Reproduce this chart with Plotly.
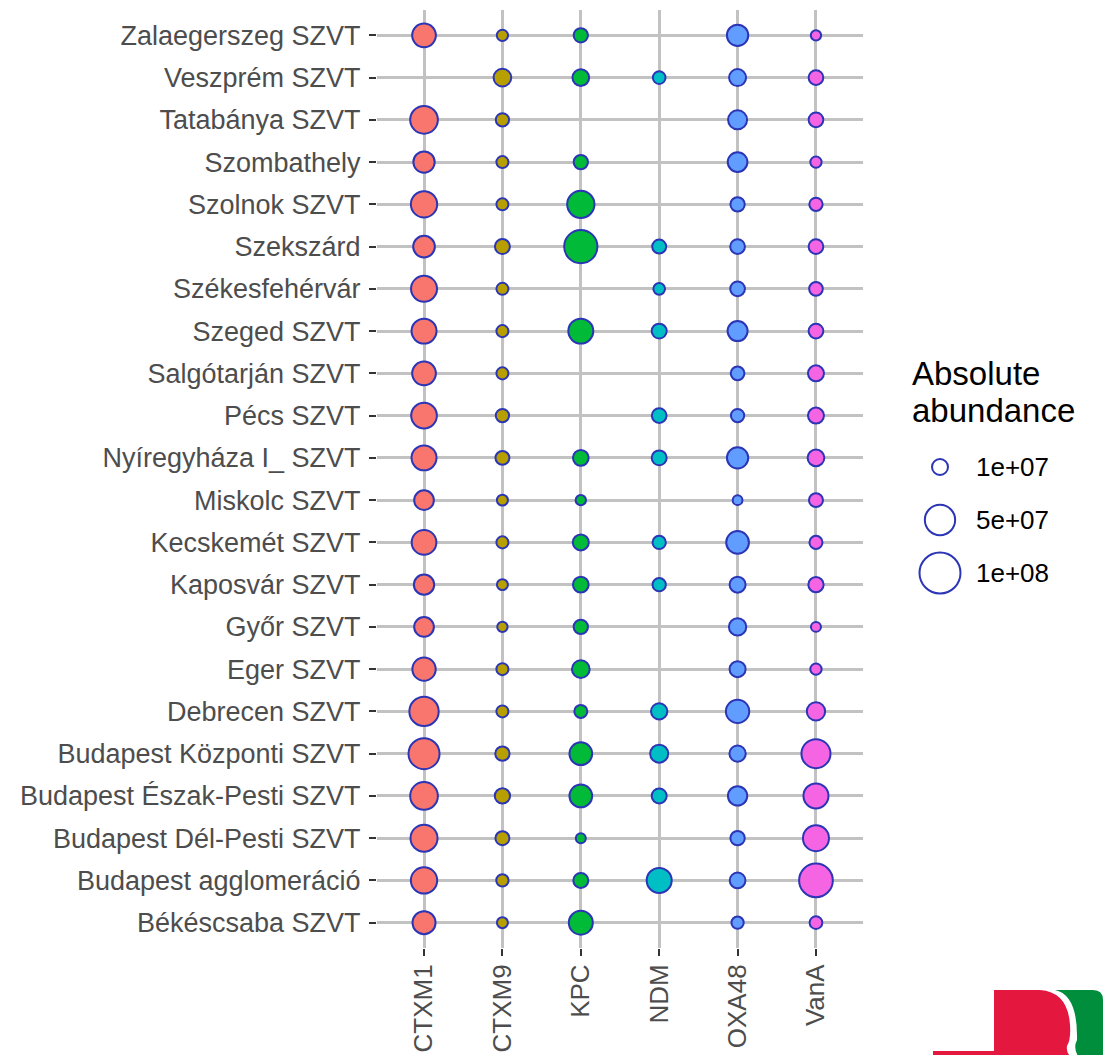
import plotly.graph_objects as go
import math

# ---------------- data ----------------
sites = [
    "Zalaegerszeg SZVT", "Veszprém SZVT", "Tatabánya SZVT", "Szombathely",
    "Szolnok SZVT", "Szekszárd", "Székesfehérvár", "Szeged SZVT",
    "Salgótarján SZVT", "Pécs SZVT", "Nyíregyháza I_ SZVT", "Miskolc SZVT",
    "Kecskemét SZVT", "Kaposvár SZVT", "Győr SZVT", "Eger SZVT",
    "Debrecen SZVT", "Budapest Központi SZVT", "Budapest Észak-Pesti SZVT",
    "Budapest Dél-Pesti SZVT", "Budapest agglomeráció", "Békéscsaba SZVT",
]
genes = ["CTXM1", "CTXM9", "KPC", "NDM", "OXA48", "VanA"]

CTXM1 = [2.78e7, None, 4.05e7, 2.13e7, 3.58e7, 2.23e7, 3.48e7, 3.16e7, 2.78e7, 3.38e7, 3.16e7,
         1.74e7, 3.07e7, 1.88e7, 1.74e7, 2.66e7, 4.63e7, 5.28e7, 4.05e7, 3.81e7, 3.58e7, 2.58e7]
CTXM9 = [0.35e7, 1.32e7, 0.59e7, 0.43e7, 0.43e7, 0.83e7, 0.43e7, 0.43e7, 0.43e7, 0.59e7, 0.68e7,
         0.32e7, 0.43e7, 0.32e7, 0.26e7, 0.43e7, 0.43e7, 0.73e7, 0.88e7, 0.68e7, 0.46e7, 0.32e7]
KPC = [0.73e7, 1.13e7, None, 0.73e7, 3.91e7, 6.23e7, None, 3.16e7, None, None, 0.95e7,
       0.26e7, 1.00e7, 0.95e7, 0.73e7, 1.32e7, 0.55e7, 2.50e7, 2.50e7, 0.23e7, 0.83e7, 2.86e7]
NDM = [None, 0.51e7, None, None, None, 0.68e7, 0.39e7, 0.83e7, None, 0.79e7, 0.83e7,
       None, 0.59e7, 0.59e7, None, None, 1.05e7, 1.38e7, 0.83e7, None, 3.16e7, None]
OXA48 = [2.13e7, 1.18e7, 1.59e7, 1.74e7, 0.73e7, 0.79e7, 0.79e7, 1.81e7, 0.64e7, 0.59e7, 2.13e7,
         0.21e7, 2.50e7, 1.00e7, 1.24e7, 1.00e7, 2.66e7, 1.05e7, 1.65e7, 0.73e7, 0.95e7, 0.46e7]
VanA = [0.26e7, 0.79e7, 0.79e7, 0.35e7, 0.59e7, 0.79e7, 0.64e7, 0.79e7, 1.00e7, 1.00e7, 1.13e7,
        0.68e7, 0.55e7, 0.88e7, 0.23e7, 0.35e7, 1.44e7, 4.52e7, 3.16e7, 3.48e7, 6.41e7, 0.51e7]

legend_values = [1e7, 5e7, 1e8]
legend_labels = ["1e+07", "5e+07", "1e+08"]
legend_title = ["Absolute", "abundance"]

series = {"CTXM1": CTXM1, "CTXM9": CTXM9, "KPC": KPC, "NDM": NDM, "OXA48": OXA48, "VanA": VanA}
colors = {"CTXM1": "#F8766D", "CTXM9": "#B79F00", "KPC": "#00BA38",
          "NDM": "#00BFC4", "OXA48": "#619CFF", "VanA": "#F564E3"}
OUTLINE = "#2B35B5"
LW = 2


def diameter(v):
    # outer diameter in px (size scale: offset + sqrt of abundance)
    return 6.44 + 11.56 * math.sqrt(v / 1e7)


# ---------------- layout geometry ----------------
W, H = 1104, 1055
ML, MR, MT, MB = 377, 241, 10, 107
PW = W - ML - MR
PH = H - MT - MB


def px(x):
    return (x - ML) / PW


def py(y):
    return (H - MB - y) / PH


fig = go.Figure()

for g in genes:
    xs, ys, ss = [], [], []
    for s, v in zip(sites, series[g]):
        if v is None:
            continue
        xs.append(g)
        ys.append(s)
        ss.append(diameter(v) - LW)
    fig.add_trace(go.Scatter(
        x=xs, y=ys, mode="markers", showlegend=False, name=g,
        marker=dict(size=ss, sizemode="diameter", color=colors[g],
                    line=dict(color=OUTLINE, width=LW), opacity=1),
    ))

fig.update_xaxes(
    type="category", categoryorder="array", categoryarray=genes,
    range=[-0.6, len(genes) - 0.4],
    showgrid=True, gridcolor="#C2C2C2", gridwidth=2.5, zeroline=False, showline=False,
    ticks="outside", ticklen=7, tickwidth=2, tickcolor="#333333",
    tickangle=-90, ticklabelstandoff=-2,
    tickfont=dict(family="Liberation Sans, Arial, sans-serif", size=26, color="#4D4D4D"),
    fixedrange=True,
)
fig.update_yaxes(
    type="category", categoryorder="array", categoryarray=list(reversed(sites)),
    range=[-0.6, len(sites) - 0.4],
    showgrid=True, gridcolor="#C2C2C2", gridwidth=2.5, zeroline=False, showline=False,
    ticks="outside", ticklen=7, tickwidth=2, tickcolor="#333333",
    ticklabelstandoff=3,
    tickfont=dict(family="Liberation Sans, Arial, sans-serif", size=27, color="#4D4D4D"),
    fixedrange=True,
)

shapes = []
annotations = []

# size legend (guide)
title_font = dict(family="Liberation Sans, Arial, sans-serif", size=33, color="#000000")
annotations.append(dict(text=legend_title[0], x=px(910), y=py(373), xref="paper", yref="paper",
                        xanchor="left", yanchor="middle", showarrow=False, font=title_font))
annotations.append(dict(text=legend_title[1], x=px(910), y=py(410), xref="paper", yref="paper",
                        xanchor="left", yanchor="middle", showarrow=False, font=title_font))
key_y = [467, 520, 573]
for v, lab, ky in zip(legend_values, legend_labels, key_y):
    r = (diameter(v) - LW) / 2
    shapes.append(dict(type="circle", xref="paper", yref="paper",
                       xsizemode="pixel", ysizemode="pixel",
                       xanchor=px(940), yanchor=py(ky),
                       x0=-r, x1=r, y0=-r, y1=r,
                       line=dict(color=OUTLINE, width=LW), fillcolor="rgba(0,0,0,0)"))
    annotations.append(dict(text=lab, x=px(974), y=py(ky), xref="paper", yref="paper",
                            xanchor="left", yanchor="middle", showarrow=False,
                            font=dict(family="Liberation Sans, Arial, sans-serif", size=26,
                                      color="#000000")))


# logo (decorative) in the lower-right corner
def path(points, close=True):
    parts = []
    for i, p in enumerate(points):
        if p[0] == "Q":
            parts.append("Q %.5f,%.5f %.5f,%.5f" % (px(p[1]), py(p[2]), px(p[3]), py(p[4])))
        else:
            parts.append(("M" if i == 0 else "L") + " %.5f,%.5f" % (px(p[0]), py(p[1])))
    return " ".join(parts) + (" Z" if close else "")


red = [(933, 1056), (933, 1051), (994, 1051), (994, 990), (1040, 990),
       ("Q", 1068, 992, 1070, 1025), ("Q", 1071, 1040, 1067, 1046),
       ("Q", 1066, 1052, 1070, 1056)]
green = [(1055, 990), (1093, 990), ("Q", 1103, 990, 1103, 1000), (1103, 1056), (1078, 1056),
         ("Q", 1073, 1048, 1077, 1040), ("Q", 1078, 995, 1055, 990)]
shapes.append(dict(type="path", xref="paper", yref="paper", path=path(red),
                   fillcolor="#E4173E", line=dict(width=0), layer="above"))
shapes.append(dict(type="path", xref="paper", yref="paper", path=path(green),
                   fillcolor="#008D3C", line=dict(width=0), layer="above"))

fig.update_layout(
    width=W, height=H,
    margin=dict(l=ML, r=MR, t=MT, b=MB, autoexpand=False),
    paper_bgcolor="white", plot_bgcolor="white",
    shapes=shapes, annotations=annotations,
    showlegend=False,
)

fig.write_html("out.html", config={"displayModeBar": False},
               post_script="document.body.style.margin='0';document.body.style.overflow='hidden';")
